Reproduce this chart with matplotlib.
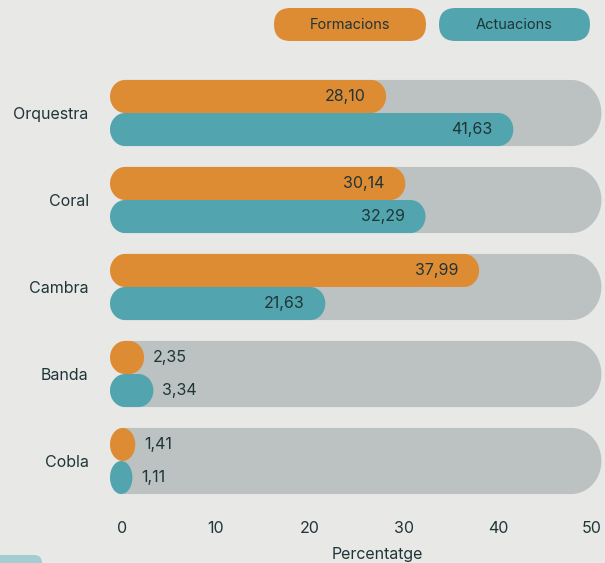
import matplotlib
matplotlib.use('Agg')
import matplotlib.pyplot as plt
import numpy as np
from matplotlib.patches import Polygon, FancyBboxPatch
from matplotlib.transforms import IdentityTransform

# ---- data ----
categories = ['Orquestra', 'Coral', 'Cambra', 'Banda', 'Cobla']
formacions = [28.10, 30.14, 37.99, 2.35, 1.41]
actuacions = [41.63, 32.29, 21.63, 3.34, 1.11]
series_names = ['Formacions', 'Actuacions']
xticks = [0, 10, 20, 30, 40, 50]
x_label = 'Percentatge'
TRACK_END = 51.0

# ---- style ----
W, H, DPI = 605, 563, 100
BG = '#e8e8e6'
ORANGE = '#de8c34'
TEAL = '#52a5ae'
GREY = '#bcc2c2'
TXT = '#1f3538'
FS = 11.5

plt.rcParams['font.family'] = ['Inter', 'DejaVu Sans']
fig = plt.figure(figsize=(W / DPI, H / DPI), dpi=DPI, facecolor=BG)

ax_left_px, ax_right_px = 95, 605
ax_top_px, ax_bot_px = 69.5, 504.5
ax = fig.add_axes([ax_left_px / W, (H - ax_bot_px) / H,
                   (ax_right_px - ax_left_px) / W, (ax_bot_px - ax_top_px) / H])
ax.set_facecolor(BG)
x0_px, px_per_unit = 122, 9.4
ax.set_xlim((ax_left_px - x0_px) / px_per_unit, (ax_right_px - x0_px) / px_per_unit)
n = len(categories)
ax.set_ylim(n - 0.5, -0.5)
for s in ax.spines.values():
    s.set_visible(False)

tr = ax.transData
inv = tr.inverted()


def rounded_bar(L, R, B, T, rx_max, round_left=True, **kw):
    """L,R,B,T in display pixels; builds stadium / ellipse shape, stored in data coords."""
    w = R - L
    ry = (T - B) / 2
    cy = (B + T) / 2
    rx = min(rx_max, w / 2) if round_left else min(rx_max, w)
    th = np.linspace(-np.pi / 2, np.pi / 2, 60)
    right = np.column_stack([R - rx + rx * np.cos(th), cy + ry * np.sin(th)])
    if round_left:
        th2 = np.linspace(np.pi / 2, 3 * np.pi / 2, 60)
        left = np.column_stack([L + rx + rx * np.cos(th2), cy + ry * np.sin(th2)])
    else:
        left = np.array([[L, T], [L, B]])
    pts = np.vstack([right, left])
    ax.add_patch(Polygon(inv.transform(pts), closed=True, linewidth=0, **kw))


def px_x(v):
    return tr.transform((v, 0))[0]


def px_y(y):
    return tr.transform((0, y))[1]


half = 0.19
for i in range(n):
    # track
    b, t = sorted([px_y(i - 2 * half), px_y(i + 2 * half)])
    rounded_bar(px_x(0) + 2, px_x(TRACK_END), b, t, 30, round_left=False, facecolor=GREY)
    for vals, color, off in [(formacions, ORANGE, -half), (actuacions, TEAL, half)]:
        v = vals[i]
        yc = i + off
        b, t = sorted([px_y(yc - half), px_y(yc + half)])
        rounded_bar(px_x(0) - 12, px_x(v), b, t, 15, round_left=True, facecolor=color)
        label = f'{v:.2f}'.replace('.', ',')
        if v > 10:
            ax.annotate(label, xy=(v, yc), xytext=(-21, 0), textcoords='offset pixels',
                        ha='right', va='center', fontsize=FS, color=TXT)
        else:
            ax.annotate(label, xy=(v, yc), xytext=(9, 0), textcoords='offset pixels',
                        ha='left', va='center', fontsize=FS, color=TXT)

ax.set_xticks(xticks)
ax.set_xticklabels([str(x) for x in xticks])
ax.tick_params(axis='x', length=0, pad=12, labelsize=FS, labelcolor=TXT)
ax.set_yticks(range(n))
ax.set_yticklabels(categories)
ax.tick_params(axis='y', length=0, pad=4.5, labelsize=FS, labelcolor=TXT)

fig.text(377 / W, 1 - 558.5 / H, x_label, ha='center', va='baseline', fontsize=FS, color=TXT)

# legend pills
pills = [(274, 426, ORANGE), (439, 590, TEAL)]
for (x1, x2, col), name in zip(pills, series_names):
    y_top, y_bot = 8, 41
    p = FancyBboxPatch((x1, H - y_bot), x2 - x1, y_bot - y_top,
                       boxstyle='round,pad=0,rounding_size=16.5',
                       transform=IdentityTransform(), facecolor=col, edgecolor='none')
    fig.add_artist(p)
    fig.text((x1 + x2) / 2 / W, 1 - 25 / H, name, ha='center', va='center',
             fontsize=10.5, color=TXT)

# partial element at bottom-left
p = FancyBboxPatch((-20, -20), 62, 28, boxstyle='round,pad=0,rounding_size=8',
                   transform=IdentityTransform(), facecolor='#a3cdd0', edgecolor='none')
fig.add_artist(p)

fig.savefig('out.png', dpi=DPI, facecolor=BG)
